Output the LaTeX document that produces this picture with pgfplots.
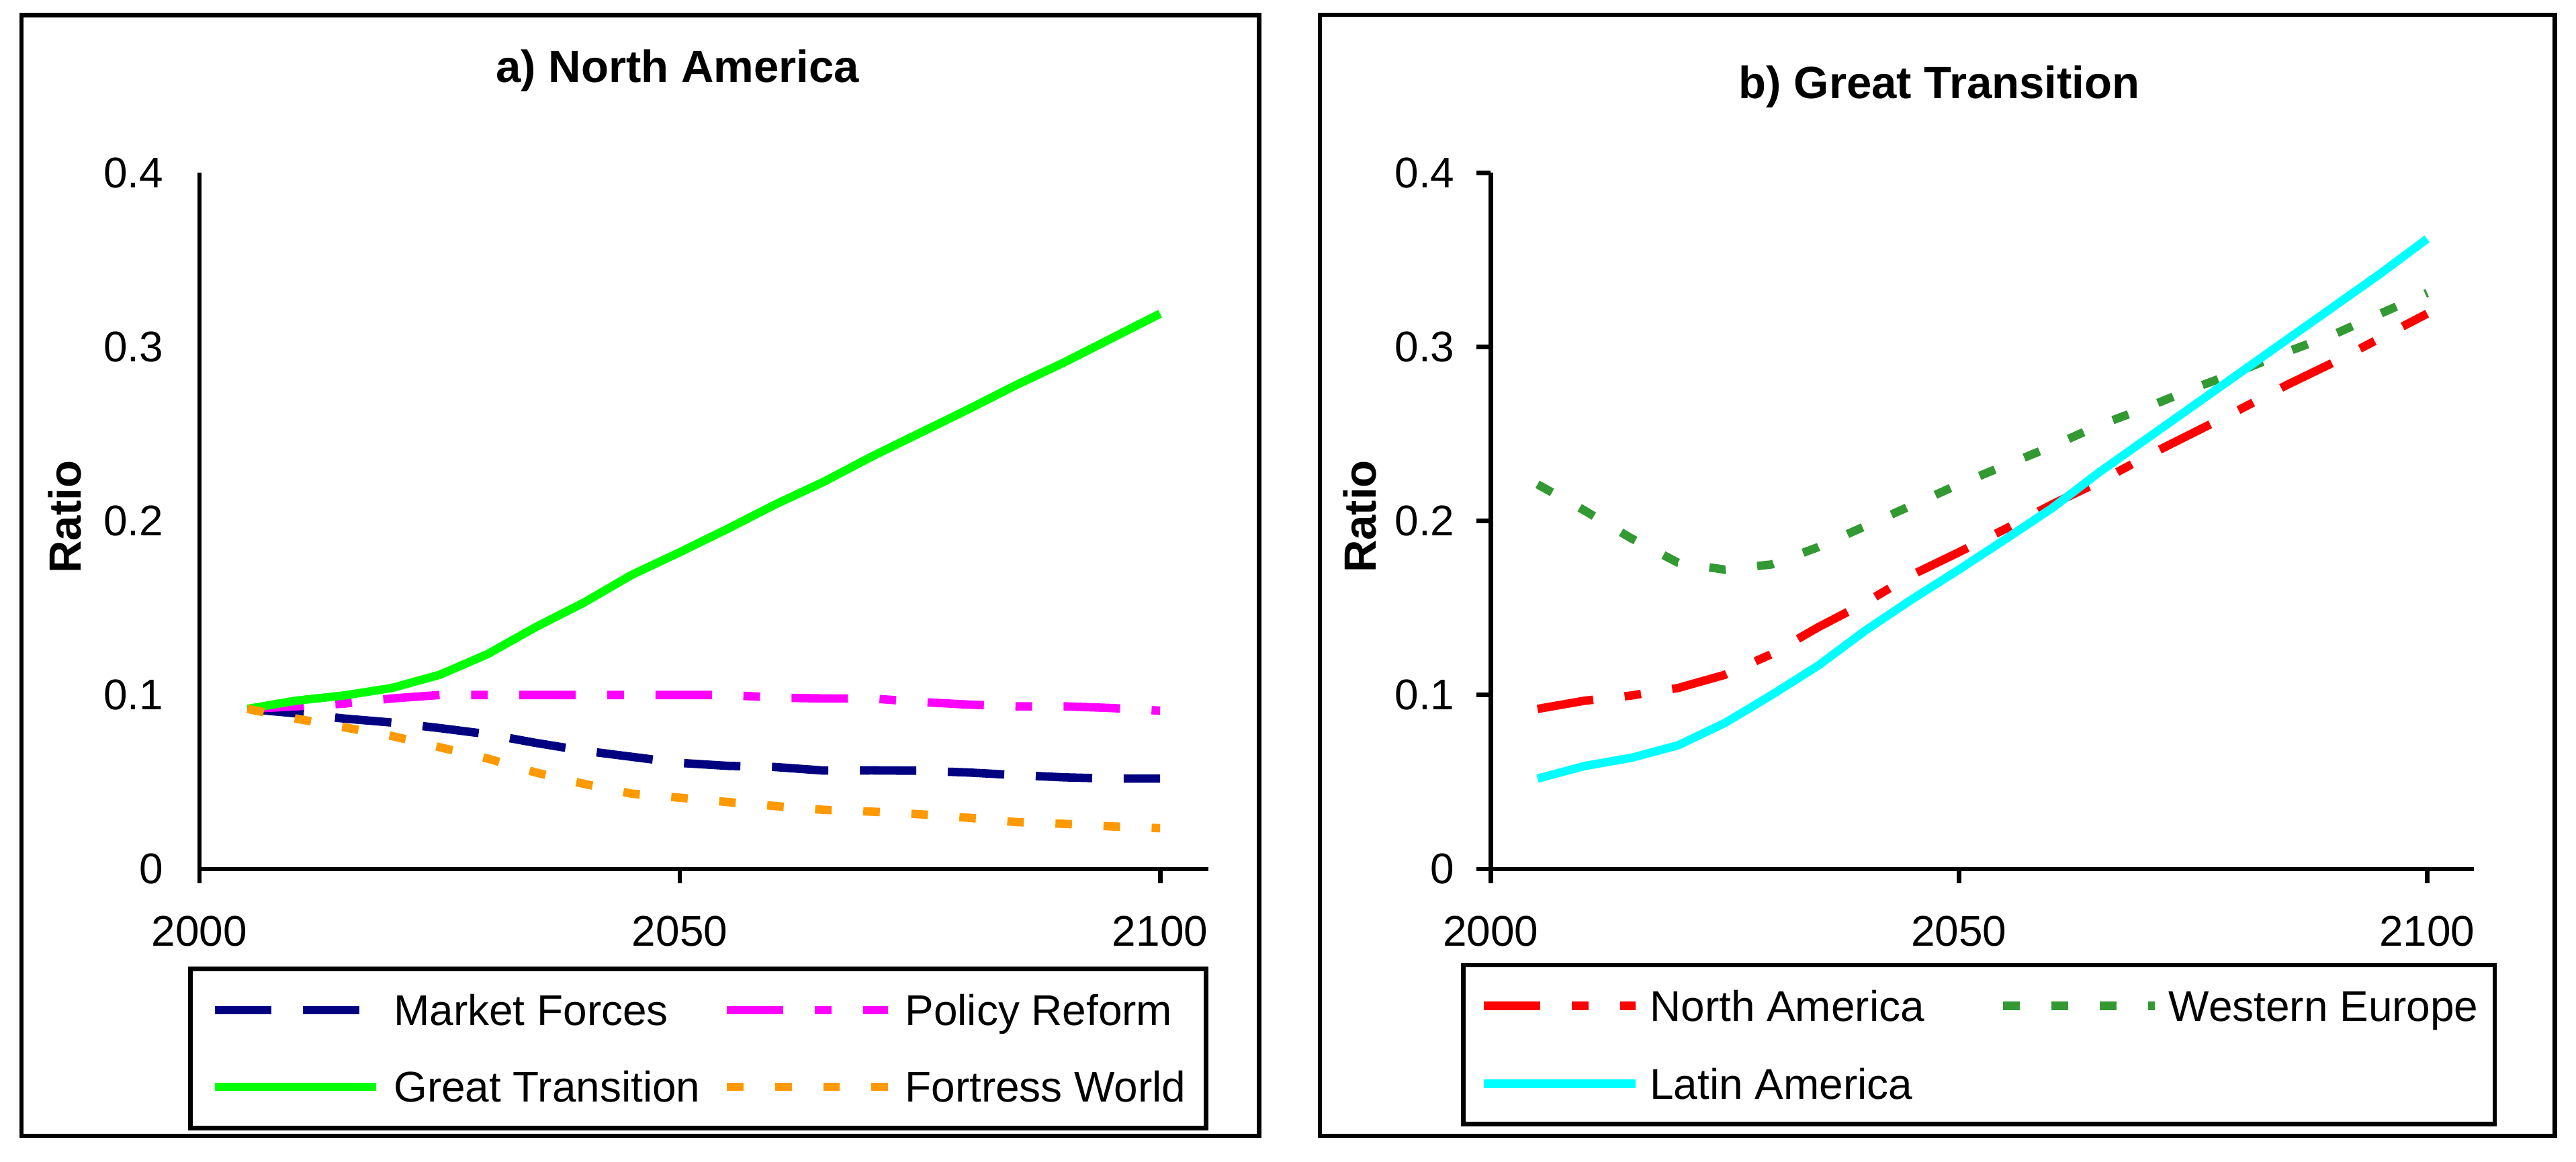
\documentclass[border=0pt]{standalone}
\usepackage{fontspec}
\setmainfont{Liberation Sans}
\usepackage{pgfplots}
\usepackage{pgfplotstable}
\pgfplotsset{compat=1.18}

\definecolor{mfnavy}{HTML}{000080}
\definecolor{prmag}{HTML}{FF00FF}
\definecolor{gtlime}{HTML}{00FF00}
\definecolor{fworange}{HTML}{FF9900}
\definecolor{nared}{HTML}{FF0000}
\definecolor{wegreen}{HTML}{339933}
\definecolor{lacyan}{HTML}{00FFFF}

% a) North America, four scenarios
\pgfplotstableread{
year  MF     PR     GT     FW
2005  0.0920 0.0920 0.0920 0.0920
2010  0.0895 0.0935 0.0967 0.0865
2015  0.0865 0.0950 0.0997 0.0815
2020  0.0842 0.0980 0.1040 0.0765
2025  0.0810 0.1000 0.1116 0.0700
2030  0.0775 0.1000 0.1235 0.0635
2035  0.0725 0.1000 0.1390 0.0555
2040  0.0680 0.1000 0.1530 0.0490
2045  0.0645 0.1000 0.1690 0.0433
2050  0.0610 0.1000 0.1820 0.0410
2055  0.0593 0.1000 0.1955 0.0385
2060  0.0586 0.0985 0.2096 0.0362
2065  0.0566 0.0980 0.2225 0.0340
2070  0.0567 0.0980 0.2370 0.0330
2075  0.0565 0.0960 0.2505 0.0315
2080  0.0555 0.0945 0.2640 0.0295
2085  0.0540 0.0935 0.2780 0.0270
2090  0.0527 0.0935 0.2910 0.0260
2095  0.0520 0.0925 0.3050 0.0245
2100  0.0520 0.0910 0.3190 0.0235
}\northamerica

% b) Great Transition, three regions
\pgfplotstableread{
year  NA     WE     LA
2005  0.0920 0.221  0.0520
2010  0.0967 0.206  0.0592
2015  0.0997 0.190  0.0639
2020  0.1040 0.176  0.0711
2025  0.1116 0.172  0.0839
2030  0.1235 0.175  0.1000
2035  0.1390 0.185  0.1170
2040  0.1530 0.197  0.1370
2045  0.1690 0.209  0.1550
2050  0.1820 0.221  0.1720
2055  0.1955 0.232  0.1896
2060  0.2096 0.243  0.2075
2065  0.2225 0.255  0.2280
2070  0.2370 0.265  0.2470
2075  0.2505 0.276  0.2660
2080  0.2640 0.286  0.2850
2085  0.2780 0.297  0.3040
2090  0.2910 0.307  0.3230
2095  0.3050 0.319  0.3420
2100  0.3190 0.331  0.3620
}\greattransition

\pgfplotsset{
  panel/.style={
    scale only axis,
    height=227.1pt,
    xmin=2000, xmax=2105,
    ymin=0, ymax=0.4,
    axis x line*=bottom,
    axis y line*=left,
    axis line style={line width=1.5pt, -},
    xtick={2000,2050,2100},
    xticklabels={2000,2050,2100},
    ytick={0,0.1,0.2,0.3,0.4},
    yticklabels={0,0.1,0.2,0.3,0.4},
    tick align=outside,
    major tick length=4.6pt,
    major tick style={line width=1.5pt, black},
    tick label style={font=\fontsize{14}{16}\selectfont, inner sep=0pt},
    xticklabel style={anchor=north, yshift=-10.6pt},
    yticklabel style={anchor=east, xshift=-7pt},
    ylabel={Ratio},
    ylabel style={font=\bfseries\fontsize{14.7}{17}\selectfont, anchor=center},
    % the default title is lifted by 6pt: take that back
    title style={font=\bfseries\fontsize{14.7}{17}\selectfont,
                 anchor=base, yshift=-6pt},
    legend columns=2,
    legend cell align=left,
    legend style={
      draw=black, line width=1.5pt, anchor=center,
      font=\fontsize{14}{16}\selectfont,
      row sep=15pt,
      nodes={inner sep=0pt, text height=10pt, text depth=0pt},
      cells={anchor=west}},
  },
  series/.style={no markers, line width=2.75pt},
}

\begin{document}
\begin{tikzpicture}
  \path[use as bounding box] (0pt,0pt) rectangle (840pt,378.92pt);

  % frames round the two panels
  \draw[line width=1.5pt] (7pt,8.54pt) rectangle (410.5pt,373.9pt);
  \draw[line width=1.5pt] (430.4pt,8.54pt) rectangle (833pt,374.1pt);

  \begin{axis}[
      panel,
      at={(65.05pt,95.5pt)}, anchor=south west,
      width=328.9pt,
      ytick style={draw=none},
      title={a) North America},
      title style={at={(0.4741,1.130)}},
      ylabel style={at={(axis description cs:-0.1333,0.5055)}},
      legend image code/.code={\draw[#1] (0pt,0pt) -- (52.5pt,0pt);},
      legend style={
        at={(0.4945,-0.2576)},
        inner xsep=6.6pt, inner ysep=8.5pt,
        /tikz/column 1/.style={column sep=4.5pt},
        /tikz/column 2/.style={column sep=7.4pt},
        /tikz/column 3/.style={column sep=4.2pt}}]

    \addplot[series, color=mfnavy, dash pattern=on 18.4pt off 10.3pt]
      table[x=year, y=MF] {\northamerica};
    \addlegendentry{Market Forces}

    \addplot[series, color=prmag,
             dash pattern=on 18.4pt off 10.3pt on 5.4pt off 10.3pt]
      table[x=year, y=PR] {\northamerica};
    \addlegendentry{Policy Reform}

    \addplot[series, color=gtlime]
      table[x=year, y=GT] {\northamerica};
    \addlegendentry{Great Transition}

    \addplot[series, color=fworange, dash pattern=on 5.4pt off 10.3pt]
      table[x=year, y=FW] {\northamerica};
    \addlegendentry{Fortress World}
  \end{axis}

  \begin{axis}[
      panel,
      at={(486.1pt,95.5pt)}, anchor=south west,
      width=320.6pt,
      title={b) Great Transition},
      title style={at={(0.4563,1.107)}},
      ylabel style={at={(axis description cs:-0.1329,0.5064)}},
      legend image code/.code={\draw[#1] (0pt,0pt) -- (49.5pt,0pt);},
      legend style={
        at={(0.4966,-0.2521)},
        inner xsep=5.35pt, inner ysep=8.2pt,
        row sep=15.4pt,
        /tikz/column 1/.style={column sep=3.3pt},
        /tikz/column 2/.style={column sep=24.4pt},
        /tikz/column 3/.style={column sep=3.1pt}}]

    \addplot[series, color=nared,
             dash pattern=on 18.4pt off 10.3pt on 5.4pt off 10.3pt]
      table[x=year, y=NA] {\greattransition};
    \addlegendentry{North America}

    \addplot[series, color=wegreen, dash pattern=on 5.4pt off 10.3pt]
      table[x=year, y=WE] {\greattransition};
    \addlegendentry{Western Europe}

    \addplot[series, color=lacyan]
      table[x=year, y=LA] {\greattransition};
    \addlegendentry{Latin America}
  \end{axis}
\end{tikzpicture}
\end{document}
